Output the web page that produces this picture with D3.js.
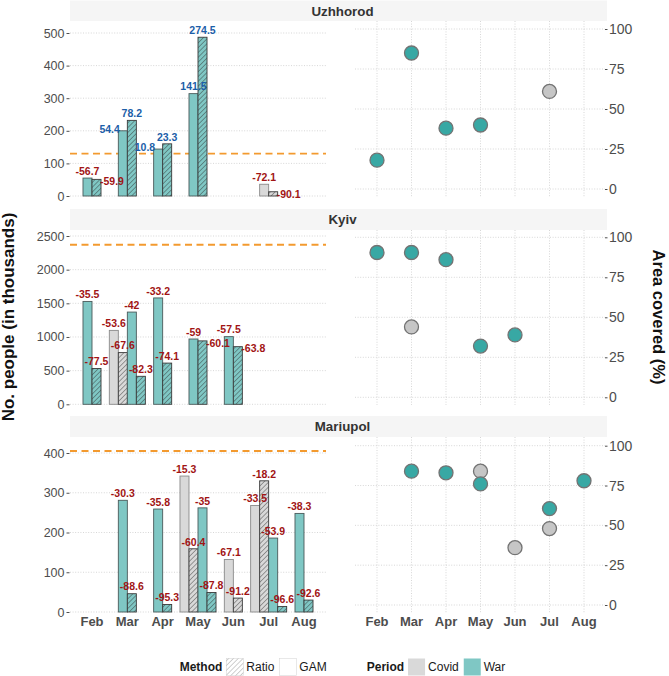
<!DOCTYPE html>
<html><head><meta charset="utf-8">
<script src="https://cdn.jsdelivr.net/npm/d3@7"></script>
<style>body{margin:0;background:#fff;} svg{display:block;font-family:"Liberation Sans",Arial,Helvetica,sans-serif;}</style>
</head><body><svg id="chart" width="669" height="676"></svg>
<script>
// ---------------- DATA ----------------
const months = ["Feb","Mar","Apr","May","Jun","Jul","Aug"];
const cities = ["Uzhhorod","Kyiv","Mariupol"];
const periods = ["Covid","War"];
const methods = ["GAM","Ratio"];
// pre-war population baseline (thousands), dashed line
const baselines = [130, 2370, 405];
const leftTicks = [[0,100,200,300,400,500],[0,500,1000,1500,2000,2500],[0,100,200,300,400]];
const rightTicks = [0,25,50,75,100];

// bars: [month, period, method, people (thousands), % change label]
const uzhhorodBars = [
 ["Feb","War","GAM",55,-56.7],["Feb","War","Ratio",51,-59.9],
 ["Mar","War","GAM",200,54.4],["Mar","War","Ratio",232,78.2],
 ["Apr","War","GAM",144,10.8],["Apr","War","Ratio",160,23.3],
 ["May","War","GAM",314,141.5],["May","War","Ratio",487,274.5],
 ["Jul","Covid","GAM",36,-72.1],["Jul","Covid","Ratio",13,-90.1]];
const kyivBars = [
 ["Feb","War","GAM",1528,-35.5],["Feb","War","Ratio",532,-77.5],
 ["Mar","Covid","GAM",1098,-53.6],["Mar","Covid","Ratio",768,-67.6],
 ["Mar","War","GAM",1370,-42],["Mar","War","Ratio",416,-82.3],
 ["Apr","War","GAM",1580,-33.2],["Apr","War","Ratio",612,-74.1],
 ["May","War","GAM",970,-59],["May","War","Ratio",942,-60.1],
 ["Jun","War","GAM",1005,-57.5],["Jun","War","Ratio",856,-63.8]];
const mariupolBars = [
 ["Mar","War","GAM",281,-30.3],["Mar","War","Ratio",46,-88.6],
 ["Apr","War","GAM",259,-35.8],["Apr","War","Ratio",19,-95.3],
 ["May","Covid","GAM",342,-15.3],["May","Covid","Ratio",159,-60.4],
 ["May","War","GAM",262,-35],["May","War","Ratio",49,-87.8],
 ["Jun","Covid","GAM",132,-67.1],["Jun","Covid","Ratio",35,-91.2],
 ["Jul","Covid","GAM",268,-33.5],["Jul","Covid","Ratio",330,-18.2],
 ["Jul","War","GAM",186,-53.9],["Jul","War","Ratio",14,-96.6],
 ["Aug","War","GAM",248,-38.3],["Aug","War","Ratio",30,-92.6]];

// label placement (repel outcome): t = above, r = right of bar, l = left of bar
const uzhhorodLabelSide = ["t","r","l","t","l","t","t","t","t","r"];
const kyivLabelSide = ["t","t","t","t","t","t","t","t","t","r","t","r"];
const mariupolLabelSide = ["t","t","t","t","t","t","t","t","t","t","t","t","t","t","t","t"];

// area covered (%): [month, period, value]
const uzhhorodArea = [["Feb","War",18],["Mar","War",85],["Apr","War",38],["May","War",40],["Jul","Covid",61]];
const kyivArea = [["Feb","War",90.5],["Mar","War",90.5],["Mar","Covid",44],["Apr","War",86],["May","War",32],["Jun","War",39]];
const mariupolArea = [["Mar","War",84],["Apr","War",83],["May","Covid",84],["May","War",76],["Jun","Covid",36],["Jul","War",60.5],["Jul","Covid",48],["Aug","War",78]];

const barsByCity = [uzhhorodBars, kyivBars, mariupolBars];
const sidesByCity = [uzhhorodLabelSide, kyivLabelSide, mariupolLabelSide];
const areaByCity = [uzhhorodArea, kyivArea, mariupolArea];

// ---------------- LAYOUT / STYLE ----------------
const barFill = {Covid:"#d9d9d9", War:"#7fc7c4"};
const dotFill = {Covid:"#c6c6c6", War:"#38a8a4"};
const dotStroke = "#737373";
const posCol = "#1c5ea8", negCol = "#a11414";
const gridCol = "#d2d2d2";
const axisText = "#4d4d4d";

const L = {x0:70, x1:326, first:92, last:304};
const R = {x0:355, x1:605, first:377, last:584};
const stripX0 = 70, stripX1 = 607, centerX = 342.5;
const panels = [
  {sTop:0.5, sBot:21, top:21, bottom:205, y0:196, yMaxPx:33, r0:189, r100:29, rBot:197},
  {sTop:209, sBot:230, top:230, bottom:412, y0:404.3, yMaxPx:236, r0:397.3, r100:237.3, rBot:405},
  {sTop:416, sBot:437, top:437, bottom:614, y0:612, yMaxPx:453, r0:605, r100:445.7, rBot:613}
];

const svg = d3.select("#chart");
const defs = svg.append("defs");
function hatch(id, color, w){
  const p = defs.append("pattern").attr("id", id).attr("patternUnits","userSpaceOnUse")
    .attr("width",3.4).attr("height",3.4).attr("patternTransform","rotate(45)");
  p.append("line").attr("x1",0).attr("y1",0).attr("x2",0).attr("y2",3.4)
    .attr("stroke",color).attr("stroke-width",w);
}
hatch("hatch","#2b2b2b",0.8);
hatch("hatchKey","#8a8a8a",0.8);

const xL = d3.scalePoint().domain(months).range([L.first, L.last]);
const xR = d3.scalePoint().domain(months).range([R.first, R.last]);
const barW = xL.step() * 0.255;
const order = ["Covid|GAM","Covid|Ratio","War|GAM","War|Ratio"];

cities.forEach((city, ci) => {
  const P = panels[ci];
  const g = svg.append("g");
  // strip
  g.append("rect").attr("x",stripX0).attr("y",P.sTop).attr("width",stripX1-stripX0).attr("height",P.sBot-P.sTop)
    .attr("fill","#f5f5f5");
  g.append("text").attr("x",centerX).attr("y",(P.sTop+P.sBot)/2).attr("dy","0.36em")
    .attr("text-anchor","middle").attr("font-weight","bold").attr("font-size",13.3).attr("fill","#333")
    .text(city);

  // ---- left: bars ----
  const ticks = leftTicks[ci];
  const y = d3.scaleLinear().domain([0, ticks[ticks.length-1]]).range([P.y0, P.yMaxPx]);
  g.selectAll(".hg").data(ticks).join("line")
    .attr("x1",L.x0).attr("x2",L.x1).attr("y1",d=>y(d)).attr("y2",d=>y(d))
    .attr("stroke",gridCol).attr("stroke-width",0.9).attr("stroke-dasharray","1,1.6");
  const yAxis = d3.axisLeft(y).tickValues(ticks).tickSize(3).tickPadding(2).tickFormat(d3.format("d"));
  const ga = g.append("g").attr("transform",`translate(${L.x0-0.5},0)`).call(yAxis);
  ga.select(".domain").remove();
  ga.selectAll(".tick line").attr("stroke",axisText);
  ga.selectAll(".tick text").attr("fill",axisText).attr("font-size",12.5).attr("font-family","Liberation Sans, Arial, sans-serif");

  // baseline dashed line
  g.append("line").attr("x1",L.x0).attr("x2",L.x1).attr("y1",y(baselines[ci])).attr("y2",y(baselines[ci]))
    .attr("stroke","#f39a2f").attr("stroke-width",1.8).attr("stroke-dasharray","7,4.5");

  const bars = barsByCity[ci].map((r,i)=>({month:r[0],period:r[1],method:r[2],value:r[3],label:r[4],side:sidesByCity[ci][i]}));
  // dodge: present bars centred within month
  months.forEach(m => {
    const inM = bars.filter(b=>b.month===m).sort((a,b)=>order.indexOf(a.period+"|"+a.method)-order.indexOf(b.period+"|"+b.method));
    inM.forEach((b,k)=>{ b.x = xL(m) - inM.length*barW/2 + k*barW; });
  });
  const bg = g.append("g");
  bars.forEach(b=>{
    bg.append("rect").attr("x",b.x).attr("y",y(b.value)).attr("width",barW).attr("height",y(0)-y(b.value))
      .attr("fill",barFill[b.period]);
    if(b.method==="Ratio"){
      bg.append("rect").attr("x",b.x).attr("y",y(b.value)).attr("width",barW).attr("height",y(0)-y(b.value))
        .attr("fill","url(#hatch)");
    }
    bg.append("rect").attr("x",b.x).attr("y",y(b.value)).attr("width",barW).attr("height",y(0)-y(b.value))
      .attr("fill","none").attr("stroke", b.method==="Ratio" ? "#3a3a3a" : (b.period==="War" ? "#4a5a5a" : "#8a8a8a"))
      .attr("stroke-width",0.9);
  });
  const lg = g.append("g").attr("font-weight","bold").attr("font-size",10.5);
  bars.forEach(b=>{
    const top = y(b.value);
    let tx, ty, anchor;
    if(b.side==="r"){ tx = b.x + barW - 1; ty = top + 2; anchor = "start"; }
    else if(b.side==="l"){ tx = b.x + 1.5; ty = top - 2; anchor = "end"; }
    else { tx = b.x + barW/2; ty = top - 7; anchor = "middle"; }
    lg.append("text").attr("x",tx).attr("y",ty).attr("dy","0.36em").attr("text-anchor",anchor)
      .attr("fill", b.label >= 0 ? posCol : negCol).text(b.label);
  });

  // ---- right: area covered dots ----
  const yr = d3.scaleLinear().domain([0,100]).range([P.r0, P.r100]);
  g.selectAll(".vg").data(months).join("line")
    .attr("x1",d=>xR(d)).attr("x2",d=>xR(d)).attr("y1",P.top).attr("y2",P.rBot)
    .attr("stroke",gridCol).attr("stroke-width",0.9).attr("stroke-dasharray","1,1.6");
  g.selectAll(".hr").data(rightTicks).join("line")
    .attr("x1",R.x0).attr("x2",R.x1).attr("y1",d=>yr(d)).attr("y2",d=>yr(d))
    .attr("stroke",gridCol).attr("stroke-width",0.9).attr("stroke-dasharray","1,1.6");
  const ra = g.append("g").attr("transform",`translate(${R.x1},0)`)
    .call(d3.axisRight(yr).tickValues(rightTicks).tickSize(2.5).tickPadding(1.5));
  ra.select(".domain").remove();
  ra.selectAll(".tick line").attr("stroke",axisText);
  ra.selectAll(".tick text").attr("fill",axisText).attr("font-size",14).attr("font-family","Liberation Sans, Arial, sans-serif");

  const pts = areaByCity[ci].map(r=>({month:r[0],period:r[1],value:r[2]}))
    .sort((a,b)=>periods.indexOf(a.period)-periods.indexOf(b.period));
  g.append("g").selectAll("circle").data(pts).join("circle")
    .attr("cx",d=>xR(d.month)).attr("cy",d=>yr(d.value)).attr("r",7)
    .attr("fill",d=>dotFill[d.period]).attr("stroke",dotStroke).attr("stroke-width",1.3);

  // month labels on bottom panel
  if(ci === cities.length-1){
    [xL, xR].forEach(xs=>{
      g.append("g").selectAll("text").data(months).join("text")
        .attr("x",d=>xs(d)).attr("y",621).attr("dy","0.36em").attr("text-anchor","middle")
        .attr("font-weight","bold").attr("font-size",13).attr("fill",axisText).text(d=>d);
    });
  }
});

// axis titles
svg.append("text").attr("transform","translate(14,317) rotate(-90)").attr("text-anchor","middle")
  .attr("font-weight","bold").attr("font-size",17).attr("fill","#111").text("No. people (in thousands)");
svg.append("text").attr("transform","translate(653,317) rotate(90)").attr("text-anchor","middle")
  .attr("font-weight","bold").attr("font-size",16.5).attr("fill","#111").text("Area covered (%)");

// legend
const leg = svg.append("g").attr("font-size",12);
const legItems = [
  {type:"title", text:"Method"},
  {type:"key", fill:"#ffffff", hatch:true}, {type:"label", text:"Ratio"},
  {type:"key", fill:"#ffffff"}, {type:"label", text:"GAM"},
  {type:"gap"},
  {type:"title", text:"Period"},
  {type:"key", fill:barFill.Covid}, {type:"label", text:"Covid"},
  {type:"key", fill:barFill.War}, {type:"label", text:"War"}
];
let lx = 0; const ly = 667, ks = 17;
legItems.forEach((it, i)=>{
  if(it.type==="gap"){ lx += 40; return; }
  if(it.type==="key"){
    lx += (legItems[i-1].type==="title") ? 4 : 5;
    leg.append("rect").attr("x",lx).attr("y",ly-ks/2).attr("width",ks).attr("height",ks).attr("fill",it.fill)
      .attr("stroke", it.fill==="#ffffff" ? "#d9d9d9" : "none").attr("stroke-width",0.6);
    if(it.hatch) leg.append("rect").attr("x",lx).attr("y",ly-ks/2).attr("width",ks).attr("height",ks).attr("fill","url(#hatchKey)");
    lx += ks;
    return;
  }
  if(it.type==="label") lx += 3;
  const t = leg.append("text").attr("x",lx).attr("y",ly).attr("dy","0.36em")
    .attr("font-weight", it.type==="title" ? "bold" : "normal").attr("fill","#1a1a1a").text(it.text);
  lx += t.node().getComputedTextLength();
});
leg.attr("transform",`translate(${centerX - lx/2},0)`);
</script>
</body></html>
